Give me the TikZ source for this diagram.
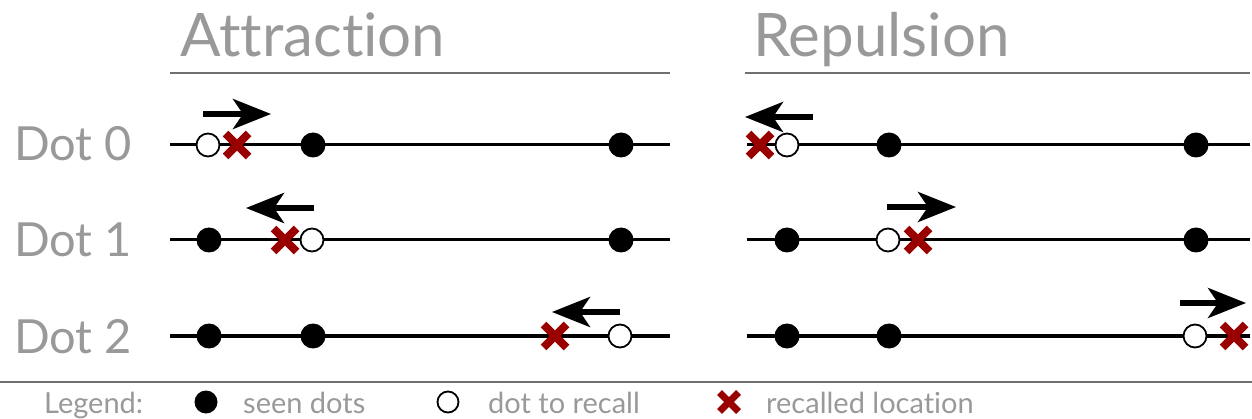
\documentclass[tikz,border=0pt]{standalone}
\usepackage{fontspec}
\setmainfont{Lato}[Ligatures=NoCommon]
\usepackage{tikz}
\usetikzlibrary{arrows.meta,shapes.misc}

\definecolor{labelgray}{HTML}{999999}
\definecolor{rulegray}{HTML}{707070}
\definecolor{recallred}{HTML}{990000}

\tikzset{
    seen/.style={circle,fill=black,minimum size=25pt,inner sep=0pt},
    torecall/.style={circle,draw=black,line width=1.8pt,fill=white,minimum size=23pt,inner sep=0pt},
    recalled/.style={cross out,draw=recallred,line width=8pt,minimum size=15pt,inner sep=0pt},
    track/.style={line width=3pt},
    movearrow/.style={line width=5.5pt,-{Stealth[length=38pt,width=30pt,inset=10pt]}},
    title/.style={text=labelgray,font=\fontsize{60}{62}\selectfont,anchor=base west,inner sep=0pt},
    rowlabel/.style={text=labelgray,font=\fontsize{47}{49}\selectfont,anchor=base east,inner sep=0pt},
    legendtext/.style={text=labelgray,font=\fontsize{29}{31}\selectfont,anchor=base west,inner sep=0pt},
}

\begin{document}
\begin{tikzpicture}[x=1pt,y=-1pt]
    \useasboundingbox (0,0) rectangle (1252,419);

    % headings
    \node[title] (attr) at (180,57) {Attraction};
    \node[title] (rep) at (753,57) {Repulsion};
    \draw[rulegray,line width=2pt] (170,73) -- (670,73);
    \draw[rulegray,line width=2pt] (745,73) -- (1250,73);

    % row labels
    \node[rowlabel] (lab0) at (132,161) {Dot 0};
    \node[rowlabel] (lab1) at (132,257) {Dot 1};
    \node[rowlabel] (lab2) at (132,353) {Dot 2};

    % tracks
    \foreach \y/\n in {145/0,240/1,336/2} {
        \coordinate (la\n) at (170,\y);
        \coordinate (lb\n) at (670,\y);
        \coordinate (ra\n) at (747,\y);
        \coordinate (rb\n) at (1250,\y);
        \draw[track] (la\n) -- (lb\n);
        \draw[track] (ra\n) -- (rb\n);
    }

    % attraction, dot 0
    \node[seen] (a0s1) at (313,145) {};
    \node[seen] (a0s2) at (621,145) {};
    \node[torecall] (a0o) at (208,145) {};
    \node[recalled] (a0x) at (237,145) {};
    \coordinate (a0from) at (203,114);
    \coordinate (a0to) at (271,114);
    \draw[movearrow] (a0from) -- (a0to);

    % attraction, dot 1
    \node[seen] (a1s1) at (209,240) {};
    \node[seen] (a1s2) at (621,240) {};
    \node[torecall] (a1o) at (312,240) {};
    \node[recalled] (a1x) at (285,240) {};
    \coordinate (a1from) at (314,208);
    \coordinate (a1to) at (246,208);
    \draw[movearrow] (a1from) -- (a1to);

    % attraction, dot 2
    \node[seen] (a2s1) at (209,336) {};
    \node[seen] (a2s2) at (313,336) {};
    \node[torecall] (a2o) at (620,336) {};
    \node[recalled] (a2x) at (555,336) {};
    \coordinate (a2from) at (620,312);
    \coordinate (a2to) at (552,312);
    \draw[movearrow] (a2from) -- (a2to);

    % repulsion, dot 0
    \node[seen] (r0s1) at (889,145) {};
    \node[seen] (r0s2) at (1196,145) {};
    \node[torecall] (r0o) at (787,145) {};
    \node[recalled] (r0x) at (760,145) {};
    \coordinate (r0from) at (813,117);
    \coordinate (r0to) at (745,117);
    \draw[movearrow] (r0from) -- (r0to);

    % repulsion, dot 1
    \node[seen] (r1s1) at (787,240) {};
    \node[seen] (r1s2) at (1196,240) {};
    \node[torecall] (r1o) at (888,240) {};
    \node[recalled] (r1x) at (918,240) {};
    \coordinate (r1from) at (887,207);
    \coordinate (r1to) at (956,207);
    \draw[movearrow] (r1from) -- (r1to);

    % repulsion, dot 2
    \node[seen] (r2s1) at (787,336) {};
    \node[seen] (r2s2) at (889,336) {};
    \node[torecall] (r2o) at (1195,336) {};
    \node[recalled] (r2x) at (1234,336) {};
    \coordinate (r2from) at (1180,303);
    \coordinate (r2to) at (1246,303);
    \draw[movearrow] (r2from) -- (r2to);

    % legend
    \draw[rulegray,line width=2pt] (0,382) -- (1252,382);
    \node[legendtext] (leg) at (44,413) {Legend:};
    \node[circle,fill=black,minimum size=23pt,inner sep=0pt] (legseen) at (206,402) {};
    \node[legendtext] (legseentext) at (243,413) {seen dots};
    \node[circle,draw=black,line width=1.8pt,minimum size=21pt,inner sep=0pt] (legopen) at (448,402) {};
    \node[legendtext] (legopentext) at (488,413) {dot to recall};
    \node[cross out,draw=recallred,line width=7pt,minimum size=12pt,inner sep=0pt] (legx) at (729,402) {};
    \node[legendtext] (legxtext) at (766,413) {recalled location};
\end{tikzpicture}
\end{document}
